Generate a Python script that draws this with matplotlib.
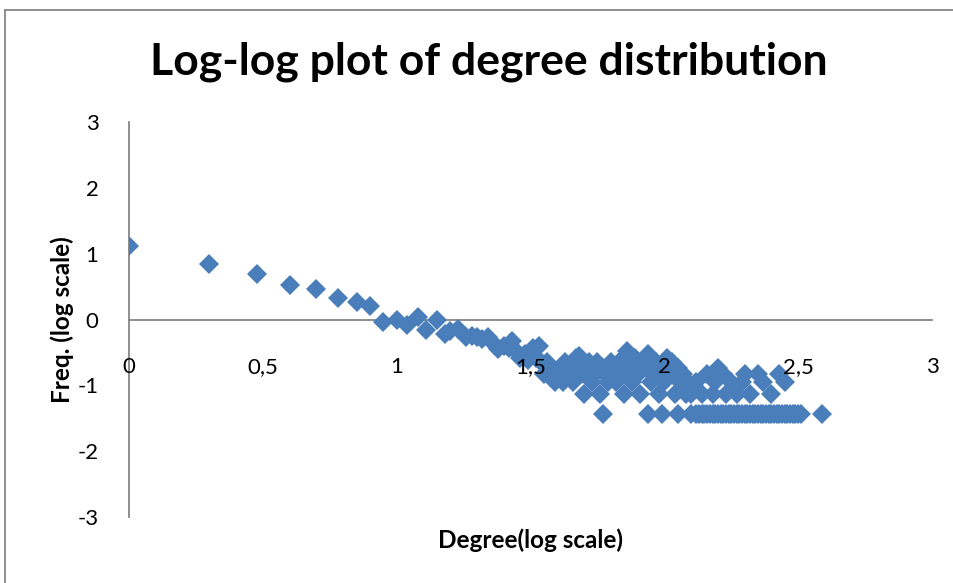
import matplotlib
matplotlib.use("Agg")
import matplotlib.pyplot as plt
from matplotlib.lines import Line2D

plt.rcParams['font.family'] = ['Lato', 'DejaVu Sans']
plt.rcParams['axes.unicode_minus'] = False

# log10(degree) and log10(frequency)
head_x = [0.00, 0.30, 0.48, 0.60, 0.70, 0.78, 0.85, 0.90, 0.95, 1.00, 1.04, 1.08,
          1.11, 1.15, 1.18, 1.20, 1.23, 1.26, 1.28, 1.30, 1.32, 1.34, 1.36, 1.38,
          1.40, 1.42, 1.43, 1.45, 1.46, 1.48, 1.49]
head_y = [1.12, 0.85, 0.69, 0.53, 0.46, 0.32, 0.26, 0.21, -0.04, -0.01, -0.09, 0.04,
          -0.16, -0.01, -0.22, -0.18, -0.15, -0.27, -0.25, -0.27, -0.30, -0.27, -0.35, -0.45,
          -0.40, -0.43, -0.32, -0.50, -0.58, -0.52, -0.62]

cloud_x = [1.51, 1.52, 1.53, 1.54, 1.55, 1.56, 1.57, 1.58, 1.59, 1.60, 1.61,
           1.62, 1.63, 1.64, 1.65, 1.66, 1.67, 1.68, 1.69, 1.70, 1.70,
           1.71, 1.72, 1.73, 1.74, 1.75, 1.76, 1.77, 1.77, 1.78, 1.79, 1.80,
           1.81, 1.82, 1.83, 1.84, 1.85, 1.86, 1.87, 1.88, 1.89, 1.90,
           1.91, 1.92, 1.93, 1.94, 1.95, 1.96, 1.97, 1.98, 1.99, 2.00,
           2.01, 2.02, 2.03, 2.04, 2.05, 2.06, 2.07, 2.08, 2.09, 2.10,
           2.12, 2.14, 2.16, 2.18, 2.19, 2.20, 2.22, 2.23, 2.25, 2.27, 2.29,
           2.30, 2.32, 2.35, 2.37, 2.40, 2.43, 2.45]
cloud_y = [-0.43, -0.58, -0.40, -0.65, -0.83, -0.65, -0.73, -0.73, -0.95, -0.83, -0.73,
           -0.95, -0.65, -0.83, -0.73, -0.95, -0.58, -0.55, -0.83, -1.13, -0.65,
           -0.73, -0.65, -0.95, -0.83, -0.65, -1.13, -1.43, -0.73, -0.83, -0.95, -0.65,
           -0.73, -0.95, -0.65, -0.83, -1.13, -0.48, -0.73, -0.95, -0.58, -0.83,
           -1.13, -0.65, -0.73, -0.53, -0.95, -0.83, -0.65, -1.13, -0.73, -0.95,
           -0.58, -0.83, -0.65, -1.13, -0.73, -0.95, -0.83, -1.13, -0.95, -1.13,
           -0.95, -1.13, -0.83, -1.13, -0.95, -0.73, -0.83, -1.13, -0.95, -1.13, -0.95,
           -0.83, -1.13, -0.83, -0.95, -1.13, -0.83, -0.95]

# degrees seen only once
tail_x = [1.94, 1.99, 2.05, 2.10, 2.12, 2.13, 2.14, 2.15, 2.16, 2.17, 2.18, 2.19,
          2.20, 2.21, 2.22, 2.23, 2.24, 2.25, 2.26, 2.27, 2.28, 2.29, 2.30, 2.31,
          2.32, 2.33, 2.34, 2.35, 2.36, 2.37, 2.38, 2.39, 2.40, 2.41, 2.42, 2.43,
          2.44, 2.45, 2.46, 2.47, 2.48, 2.49, 2.50, 2.51, 2.59]
tail_y = [-1.43] * len(tail_x)

x_ticks = [0, 0.5, 1, 1.5, 2, 2.5, 3]
x_labels = ['0', '0,5', '1', '1,5', '2', '2,5', '3']
y_ticks = [-3, -2, -1, 0, 1, 2, 3]

blue = '#4A7EBB'
axis_grey = '#868686'

fig = plt.figure(figsize=(9.54, 5.83), dpi=100)
ax = fig.add_axes([129 / 954, 66 / 583, 803 / 954, 395 / 583])

for xs, ys in [(head_x, head_y), (cloud_x, cloud_y), (tail_x, tail_y)]:
    ax.plot(xs, ys, 'D', color=blue, markersize=9.8, markeredgewidth=0, linestyle='none')

ax.set_xlim(0, 3)
ax.set_ylim(-3, 3)
ax.spines['left'].set_position(('data', 0))
ax.spines['bottom'].set_position(('data', 0))
ax.spines['top'].set_visible(False)
ax.spines['right'].set_visible(False)
for s in ['left', 'bottom']:
    ax.spines[s].set_color(axis_grey)
    ax.spines[s].set_linewidth(1.3)
    ax.spines[s].set_zorder(1)

ax.set_xticks(x_ticks)
ax.set_xticklabels(x_labels)
ax.set_yticks(y_ticks)
ax.tick_params(axis='both', length=0, labelsize=16)
ax.tick_params(axis='x', pad=27)
ax.tick_params(axis='y', pad=22)
# tick labels sit on top of the markers, as in Excel
ax.xaxis.set_zorder(3)
ax.yaxis.set_zorder(3)

fig.text(0.5 * (150 + 828) / 954, 1 - 62 / 583, 'Log-log plot of degree distribution',
         ha='center', va='center', fontsize=32, fontweight='bold')
fig.text(531 / 954, 1 - 540 / 583, 'Degree(log scale)', ha='center', va='center',
         fontsize=17.5, fontweight='bold')
fig.text(62 / 954, 1 - 320 / 583, 'Freq. (log scale)', ha='center', va='center',
         rotation=90, fontsize=17.5, fontweight='bold')

# chart border (only left and top edges are in frame)
fig.add_artist(Line2D([5 / 954, 5 / 954], [0, 1 - 10 / 583], color=axis_grey, lw=1.3))
fig.add_artist(Line2D([5 / 954, 1], [1 - 10 / 583, 1 - 10 / 583], color=axis_grey, lw=1.3))

fig.savefig('out.png', dpi=100, facecolor='white')
